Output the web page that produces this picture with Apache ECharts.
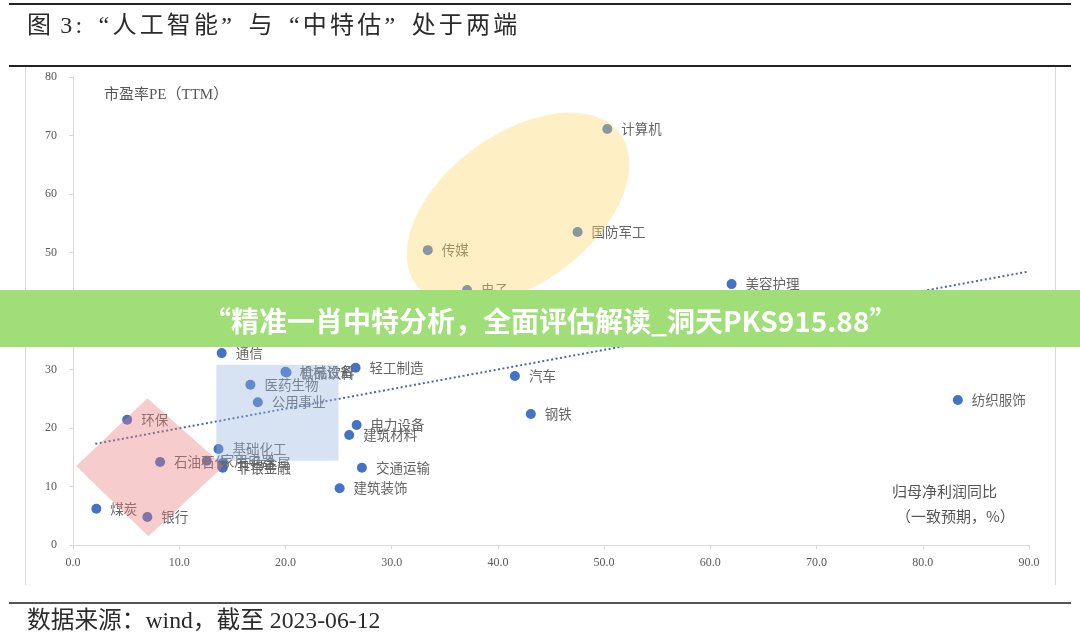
<!DOCTYPE html>
<html><head><meta charset="utf-8">
<script src="https://cdn.jsdelivr.net/npm/echarts@6/dist/echarts.min.js"></script>
<style>html,body{margin:0;padding:0;background:#fff}#c{width:1080px;height:639px}</style>
</head><body><div id="c"></div>
<script>
// ---- data ----
const industries = ['计算机','国防军工','传媒','电子','美容护理','通信','机械设备','食品饮料','轻工制造','医药生物','公用事业','汽车','纺织服饰','环保','电力设备','建筑材料','钢铁','基础化工','石油石化','家用电器','有色金属','非银金融','交通运输','建筑装饰','煤炭','银行'];
const profitGrowth = [50.3,47.5,33.4,37.1,62.0,14.0,20.0,20.1,26.6,16.7,17.4,41.6,83.3,5.1,26.7,26.0,43.1,13.7,8.2,12.6,14.1,14.1,27.2,25.1,2.2,7.0];
const peTTM = [71.1,53.5,50.4,43.6,44.6,32.8,29.6,29.5,30.3,27.4,24.4,28.9,24.8,21.4,20.5,18.8,22.4,16.4,14.2,14.4,14.0,13.2,13.2,9.7,6.2,4.8];
const trendX = [2.1, 89.8];
const trendY = [17.3, 46.7];
const xTicks = [0,10,20,30,40,50,60,70,80,90];
const yTicks = [0,10,20,30,40,50,60,70,80];
// annotation shapes in data units
const aiEllipseCenter = [41.9, 57.4];
const aiEllipseMajorEnd = [51.5, 70.3];
const aiEllipseAxisRatio = 0.59;
const stateRect = [[13.5, 30.8], [25.0, 14.4]];
const lowDiamond = [[0.3, 13.5], [7.0, 25.1], [14.2, 13.5], [7.1, 1.5]];

const titleText = '图 3:“人工智能”与“中特估”处于两端';
const sourceText = '数据来源：wind，截至 2023-06-12';
const bannerText = '“精准一肖中特分析，全面评估解读_洞天PKS915.88”';

const chart = echarts.init(document.getElementById('c'));
const serif = '"Liberation Serif","Noto Sans CJK SC",serif';
const cjk = '"Noto Sans CJK SC","Liberation Serif",sans-serif';

// lay out a line of text glyph by glyph with tracking, CJK quotes as full-width cells
const mctx = document.createElement('canvas').getContext('2d');
function trackedText(str, left, top, size, tracking, fill) {
  mctx.font = size + 'px ' + serif;
  const els = [];
  let x = left;
  for (const ch of str) {
    const w = mctx.measureText(ch).width;
    if (ch === '“') {
      els.push({type: 'text', z: 10, x: x + size, y: top, style: {text: ch, font: size + 'px ' + serif, fill: fill, align: 'right'}});
      x += size + tracking;
    } else if (ch === '”') {
      els.push({type: 'text', z: 10, x: x, y: top, style: {text: ch, font: size + 'px ' + serif, fill: fill, align: 'left'}});
      x += size + tracking;
    } else {
      els.push({type: 'text', z: 10, x: x, y: top, style: {text: ch, font: size + 'px ' + serif, fill: fill}});
      x += w + (ch === ' ' ? 0 : tracking);
    }
  }
  return els;
}

const scatterData = industries.map((n, i) => ({name: n, value: [profitGrowth[i], peTTM[i]]}));

function ellipseItem(params, api) {
  const c = api.coord(aiEllipseCenter);
  const e = api.coord(aiEllipseMajorEnd);
  const dx = e[0] - c[0], dy = e[1] - c[1];
  const A = Math.sqrt(dx * dx + dy * dy);
  const B = A * aiEllipseAxisRatio;
  const th = Math.atan2(dy, dx);
  const pts = [];
  for (let k = 0; k < 120; k++) {
    const t = k / 120 * Math.PI * 2;
    const px = A * Math.cos(t), py = B * Math.sin(t);
    pts.push([c[0] + px * Math.cos(th) - py * Math.sin(th), c[1] + px * Math.sin(th) + py * Math.cos(th)]);
  }
  return {type: 'polygon', shape: {points: pts}, style: {fill: 'rgba(255,214,100,0.38)'}};
}
function rectItem(params, api) {
  const a = api.coord(stateRect[0]), b = api.coord(stateRect[1]);
  return {type: 'rect', shape: {x: a[0], y: a[1], width: b[0] - a[0], height: b[1] - a[1]}, style: {fill: 'rgba(150,180,222,0.38)'}};
}
function diamondItem(params, api) {
  return {type: 'polygon', shape: {points: lowDiamond.map(p => api.coord(p))}, style: {fill: 'rgba(232,120,120,0.38)'}};
}

chart.setOption({
  animation: false,
  backgroundColor: '#fff',
  grid: {left: 73, right: 51, top: 77, bottom: 94},
  xAxis: {
    type: 'value', min: xTicks[0], max: xTicks[xTicks.length - 1], interval: 10,
    axisLine: {lineStyle: {color: '#d9d9d9'}},
    axisTick: {show: true, length: 4, lineStyle: {color: '#d9d9d9'}},
    splitLine: {show: false},
    axisLabel: {color: '#595959', fontFamily: serif, fontSize: 12, margin: 12, formatter: v => v.toFixed(1)}
  },
  yAxis: {
    type: 'value', min: yTicks[0], max: yTicks[yTicks.length - 1], interval: 10,
    axisLine: {show: true, lineStyle: {color: '#d9d9d9'}},
    axisTick: {show: true, length: 4, lineStyle: {color: '#d9d9d9'}},
    splitLine: {show: false},
    axisLabel: {color: '#595959', fontFamily: serif, fontSize: 12, margin: 16}
  },
  series: [
    {
      type: 'scatter', z: 2, symbolSize: 10, data: scatterData,
      itemStyle: {color: '#4472c4', opacity: 1},
      label: {show: true, position: 'right', distance: 9, formatter: p => p.name,
        color: '#666', fontFamily: cjk, fontSize: 13.5}
    },
    {
      type: 'line', z: 3, symbol: 'none', data: trendX.map((x, i) => [x, trendY[i]]),
      lineStyle: {color: '#4a6aa8', width: 2, type: [2, 2.5]}
    },
    {type: 'custom', z: 4, data: [0], renderItem: ellipseItem, silent: true},
    {type: 'custom', z: 4, data: [0], renderItem: rectItem, silent: true},
    {type: 'custom', z: 4, data: [0], renderItem: diamondItem, silent: true}
  ],
  graphic: [
    {type: 'line', z: 0, shape: {x1: 25.5, y1: 67, x2: 25.5, y2: 585}, style: {stroke: '#d9d9d9', lineWidth: 1}},
    {type: 'line', z: 0, shape: {x1: 1055.5, y1: 67, x2: 1055.5, y2: 585}, style: {stroke: '#d9d9d9', lineWidth: 1}},
    {type: 'rect', z: 10, shape: {x: 9, y: 3, width: 1062, height: 2}, style: {fill: '#222'}},
    {type: 'rect', z: 10, shape: {x: 9, y: 65, width: 1062, height: 2}, style: {fill: '#222'}},
    {type: 'rect', z: 10, shape: {x: 9, y: 602, width: 1062, height: 2}, style: {fill: '#555'}},
    ...trackedText(titleText, 27, 15, 24, 3.2, '#2b2b2b'),
    ...trackedText(sourceText, 27, 610, 23.7, 0, '#2b2b2b'),
    {type: 'text', z: 10, left: 104, top: 88, style: {text: '市盈率PE（TTM）', fontFamily: serif, fontSize: 15, fill: '#555'}},
    {type: 'text', z: 10, left: 892, top: 484, style: {text: '归母净利润同比', fontFamily: cjk, fontSize: 15, fill: '#555'}},
    {type: 'text', z: 10, left: 896, top: 509, style: {text: '（一致预期，%）', fontFamily: cjk, fontSize: 15, fill: '#555'}},
    {type: 'rect', z: 20, shape: {x: 0, y: 290, width: 1080, height: 57}, style: {fill: '#a0de78'}},
    {type: 'text', z: 21, left: 203, top: 307, style: {text: bannerText, fontFamily: cjk, fontWeight: 'bold', fontSize: 28, fill: '#fff'}}
  ]
});
</script></body></html>
